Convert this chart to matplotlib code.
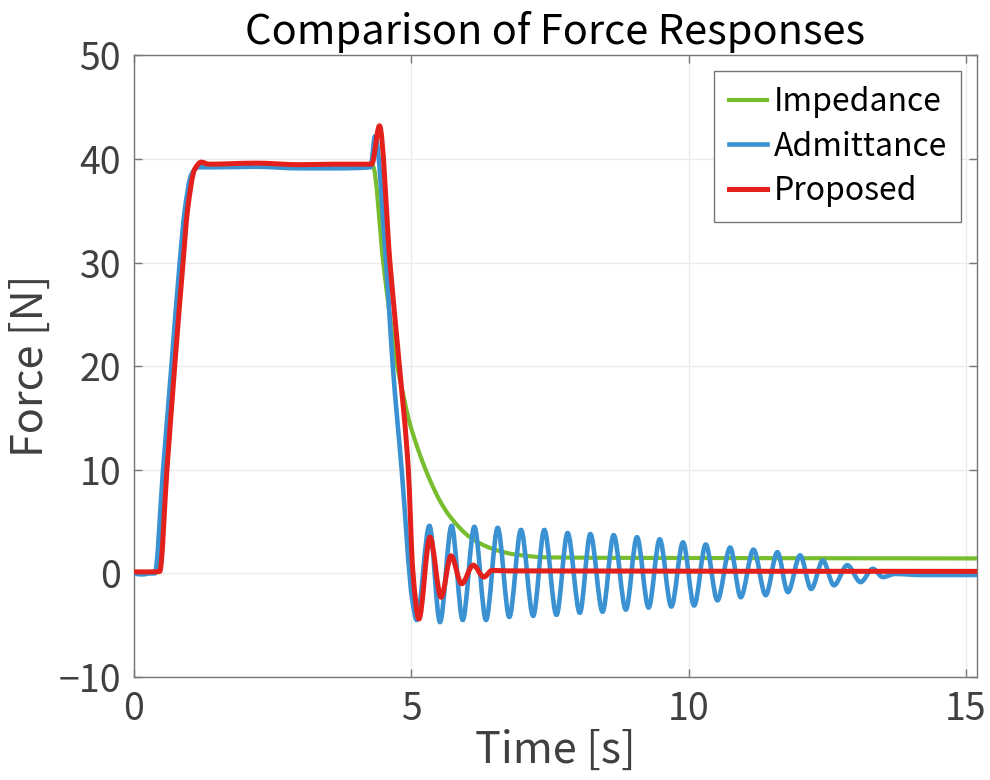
import numpy as np
import matplotlib
matplotlib.use('Agg')
import matplotlib.pyplot as plt
from matplotlib.path import Path
from matplotlib.patches import PathPatch
from matplotlib.lines import Line2D

plt.rcParams['font.family'] = ['Noto Sans CJK JP', 'DejaVu Sans']

# force responses (time [s], force [N])
t_imp = [0.0, 0.45, 0.58, 0.72, 0.87, 0.96, 1.09, 1.2, 2.2, 3.0, 4.31, 4.5, 4.75,
         4.86, 4.96, 5.15, 5.34, 5.52, 5.70, 6.06, 6.43, 6.85, 7.45, 9.0, 15.2]
f_imp = [0.1, 0.1, 10.0, 20.0, 30.0, 35.0, 39.0, 39.5, 39.5, 39.4, 39.3, 29.9, 20.0,
         17.2, 14.8, 11.6, 9.0, 7.0, 5.5, 3.5, 2.45, 1.85, 1.55, 1.5, 1.45]

t_adm = [0.0, 0.15, 0.3, 0.38, 0.53, 0.68, 0.83, 0.92, 1.04, 1.16, 1.5, 2.2, 3.0,
         3.6, 4.27, 4.35, 4.55, 4.67, 4.83, 5.02, 5.10,
         5.33, 5.52, 5.73, 5.93, 6.14, 6.35, 6.56, 6.77, 6.98, 7.20, 7.40, 7.62,
         7.82, 8.04, 8.23, 8.45, 8.65, 8.87, 9.07, 9.28, 9.48, 9.69, 9.90, 10.10,
         10.31, 10.52, 10.75, 10.94, 11.17, 11.39, 11.60, 11.79, 12.01, 12.21,
         12.42, 12.62, 12.86, 13.10, 13.32, 13.50, 13.72, 14.2, 15.2]
f_adm = [0.0, -0.1, 0.0, 0.0, 10.0, 20.0, 30.0, 35.0, 38.5, 39.2, 39.2, 39.25, 39.1,
         39.1, 39.2, 42.2, 29.9, 20.0, 10.0, -2.5, -4.5,
         4.6, -4.7, 4.6, -4.5, 4.5, -4.5, 4.4, -4.2, 4.2, -4.1, 4.2, -4.0,
         3.9, -3.8, 3.8, -3.7, 3.7, -3.5, 3.5, -3.3, 3.3, -3.2, 3.0, -3.1,
         2.8, -2.6, 2.5, -2.3, 2.3, -2.1, 2.05, -1.8, 1.75, -1.5,
         1.25, -1.15, 0.8, -0.84, 0.45, -0.35, -0.05, -0.15, -0.15]

t_pro = [0.0, 0.3, 0.47, 0.60, 0.74, 0.89, 0.97, 1.10, 1.22, 1.35, 2.2, 3.0, 3.6,
         4.29, 4.43, 4.62, 4.79, 4.95, 5.03, 5.14, 5.34, 5.54, 5.72, 5.91, 6.12,
         6.31, 6.46, 6.7, 15.2]
f_pro = [0.15, 0.15, 0.2, 10.0, 20.0, 30.0, 35.0, 39.0, 39.7, 39.5, 39.6, 39.45, 39.5,
         39.5, 43.2, 29.9, 20.0, 10.0, 0.3, -4.4, 3.5, -2.3, 1.7, -1.0, 0.8,
         -0.35, 0.3, 0.25, 0.2]

labels = ['Impedance', 'Admittance', 'Proposed']
colors = ['#77BD2E', '#3A92D3', '#E3201C']
widths = [3.0, 3.3, 3.6]


def smooth_path(x, y):
    # shape preserving cubic (Fritsch-Carlson) drawn as bezier segments
    x = np.asarray(x, float)
    y = np.asarray(y, float)
    h = np.diff(x)
    d = np.diff(y) / h
    m = np.zeros_like(y)
    m[0], m[-1] = d[0], d[-1]
    for k in range(1, len(x) - 1):
        if d[k - 1] * d[k] > 0:
            w1 = 2 * h[k] + h[k - 1]
            w2 = h[k] + 2 * h[k - 1]
            m[k] = (w1 + w2) / (w1 / d[k - 1] + w2 / d[k])
    verts = [(x[0], y[0])]
    codes = [Path.MOVETO]
    for k in range(len(x) - 1):
        verts += [(x[k] + h[k] / 3, y[k] + m[k] * h[k] / 3),
                  (x[k + 1] - h[k] / 3, y[k + 1] - m[k + 1] * h[k] / 3),
                  (x[k + 1], y[k + 1])]
        codes += [Path.CURVE4] * 3
    return Path(verts, codes)


fig = plt.figure(figsize=(9.9, 7.8), dpi=100)
ax = fig.add_axes([0.135, 0.132, 0.852, 0.797])

series = [(t_imp, f_imp), (t_adm, f_adm), (t_pro, f_pro)]
for (t, f), c, lw in zip(series, colors, widths):
    ax.add_patch(PathPatch(smooth_path(t, f), fill=False, edgecolor=c, lw=lw,
                           capstyle='round', joinstyle='round', zorder=3))

ax.set_xlim(0, 15.2)
ax.set_ylim(-10, 50)
ax.set_xticks([0, 5, 10, 15])
ax.set_yticks([-10, 0, 10, 20, 30, 40, 50])
ax.set_yticklabels(['\u221210', '0', '10', '20', '30', '40', '50'])
ax.grid(True, color='#ebebeb', lw=1.0)
ax.set_axisbelow(True)

for s in ax.spines.values():
    s.set_color('#7a7575')
    s.set_linewidth(1.0)
ax.tick_params(direction='in', length=6, width=1.0, color='#7a7575',
               labelcolor='#404040', labelsize=27, top=True, right=True, pad=9)

ax.set_title('Comparison of Force Responses', fontsize=30, color='black', pad=8)
ax.set_xlabel('Time [s]', fontsize=31, color='#404040', labelpad=0)
ax.set_ylabel('Force [N]', fontsize=31, color='#404040', labelpad=4)

handles = [Line2D([], [], color=c, lw=lw) for c, lw in zip(colors, widths)]
leg = ax.legend(handles, labels, loc='upper right', fontsize=23, fancybox=False,
                framealpha=1, edgecolor='#7a7575', handlelength=1.2,
                handletextpad=0.2, borderaxespad=0.5, labelspacing=0.4,
                borderpad=0.45)
leg.get_frame().set_linewidth(1.0)

fig.savefig('out.png', dpi=100)
